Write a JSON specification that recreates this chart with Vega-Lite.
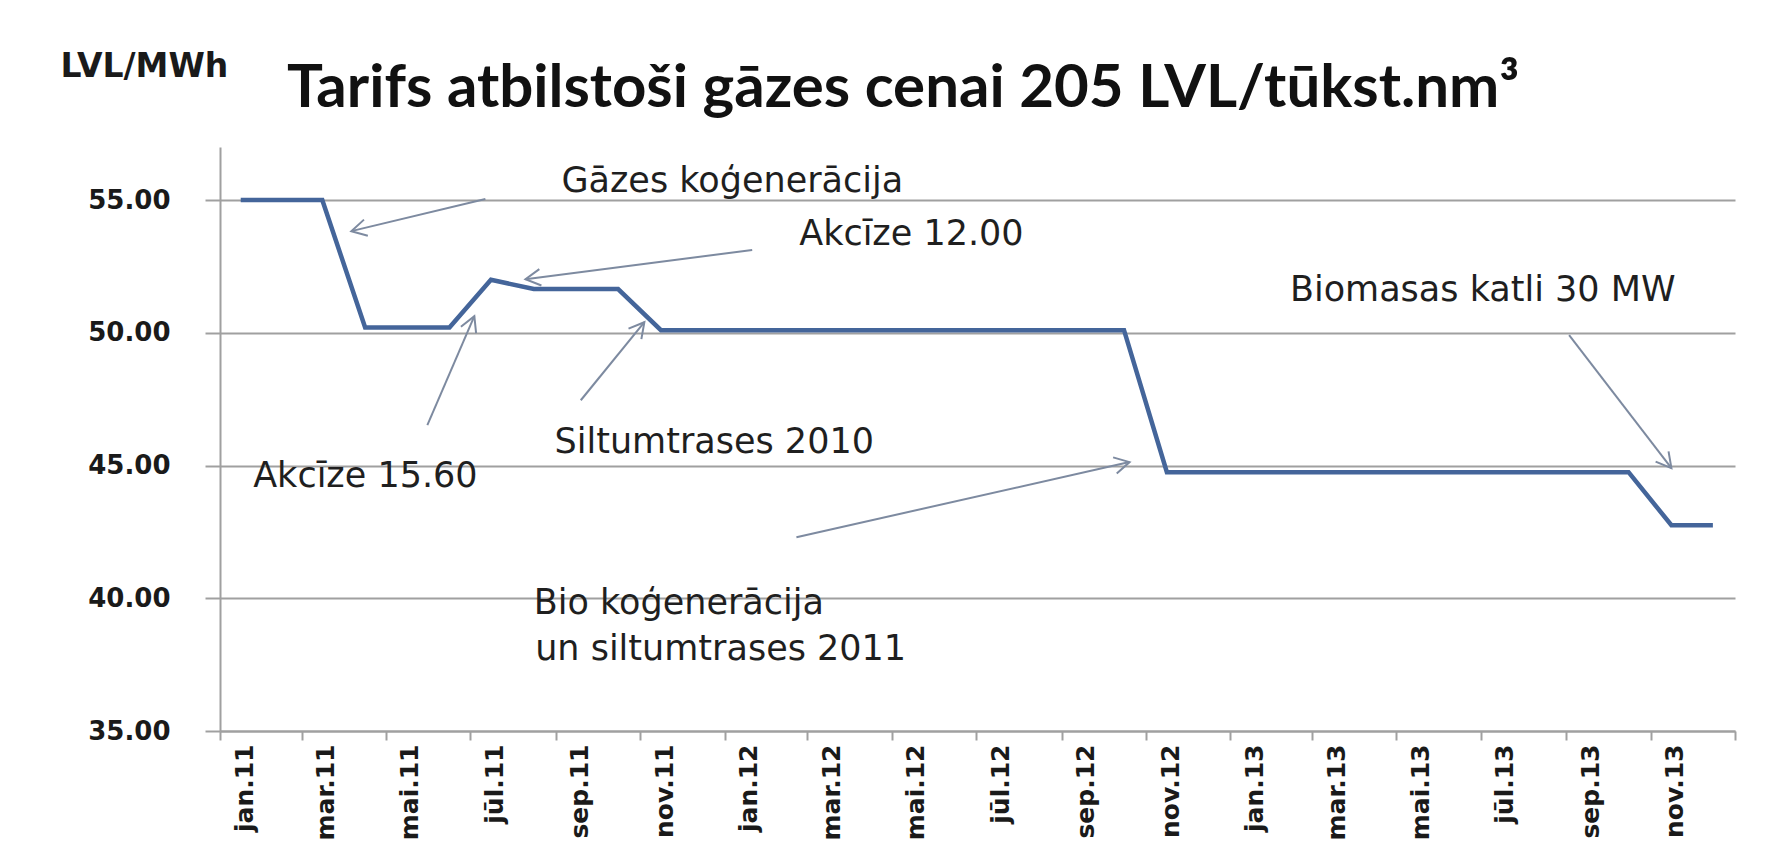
{
  "$schema": "https://vega.github.io/schema/vega-lite/v6.json",
  "width": 1515,
  "height": 584,
  "autosize": {"type": "none"},
  "padding": {"left": 220, "top": 147, "right": 42, "bottom": 133},
  "background": "#ffffff",
  "config": {"view": {"stroke": null}},
  "title": {
    "text": "Tarifs atbilstoši gāzes cenai 205 LVL/tūkst.nm³",
    "anchor": "start",
    "frame": "group",
    "dx": 67,
    "offset": -117,
    "baseline": "alphabetic",
    "font": "Lato",
    "fontSize": 60,
    "fontWeight": "bold",
    "color": "#111111"
  },
  "datasets": {
    "tariff": [
      {"month": "2011-01-16", "value": 55.0},
      {"month": "2011-02-15", "value": 55.0},
      {"month": "2011-03-16", "value": 55.0},
      {"month": "2011-04-16", "value": 50.2},
      {"month": "2011-05-16", "value": 50.2},
      {"month": "2011-06-16", "value": 50.2},
      {"month": "2011-07-16", "value": 52.0},
      {"month": "2011-08-16", "value": 51.65},
      {"month": "2011-09-16", "value": 51.65},
      {"month": "2011-10-16", "value": 51.65},
      {"month": "2011-11-16", "value": 50.1},
      {"month": "2011-12-16", "value": 50.1},
      {"month": "2012-01-16", "value": 50.1},
      {"month": "2012-02-15", "value": 50.1},
      {"month": "2012-03-16", "value": 50.1},
      {"month": "2012-04-16", "value": 50.1},
      {"month": "2012-05-16", "value": 50.1},
      {"month": "2012-06-16", "value": 50.1},
      {"month": "2012-07-16", "value": 50.1},
      {"month": "2012-08-16", "value": 50.1},
      {"month": "2012-09-16", "value": 50.1},
      {"month": "2012-10-16", "value": 50.1},
      {"month": "2012-11-16", "value": 44.75},
      {"month": "2012-12-16", "value": 44.75},
      {"month": "2013-01-16", "value": 44.75},
      {"month": "2013-02-15", "value": 44.75},
      {"month": "2013-03-16", "value": 44.75},
      {"month": "2013-04-16", "value": 44.75},
      {"month": "2013-05-16", "value": 44.75},
      {"month": "2013-06-16", "value": 44.75},
      {"month": "2013-07-16", "value": 44.75},
      {"month": "2013-08-16", "value": 44.75},
      {"month": "2013-09-16", "value": 44.75},
      {"month": "2013-10-16", "value": 44.75},
      {"month": "2013-11-16", "value": 42.75},
      {"month": "2013-12-16", "value": 42.75}
    ],
    "arrows": [
      {"x_from": "2011-07-12", "y_from": 55.04, "x_to": "2011-04-06", "y_to": 53.83, "angle": 166.5},
      {"x_from": "2012-01-21", "y_from": 53.12, "x_to": "2011-08-10", "y_to": 52.02, "angle": 172.7},
      {"x_from": "2011-05-31", "y_from": 46.52, "x_to": "2011-07-04", "y_to": 50.63, "angle": 292.9},
      {"x_from": "2011-09-19", "y_from": 47.46, "x_to": "2011-11-04", "y_to": 50.40, "angle": 308.9},
      {"x_from": "2012-02-22", "y_from": 42.30, "x_to": "2012-10-20", "y_to": 45.13, "angle": 347.3},
      {"x_from": "2013-09-03", "y_from": 49.91, "x_to": "2013-11-16", "y_to": 44.90, "angle": 51.5}
    ],
    "notes": [
      {"label": "Gāzes koģenerācija", "date": "2011-09-05", "value": 55.72},
      {"label": "Akcīze 12.00", "date": "2012-02-24", "value": 53.72},
      {"label": "Akcīze 15.60", "date": "2011-01-25", "value": 44.6},
      {"label": "Siltumtrases 2010", "date": "2011-08-31", "value": 45.88},
      {"label": "Biomasas katli 30 MW", "date": "2013-02-13", "value": 51.61},
      {"label": "Bio koģenerācija", "date": "2011-08-16", "value": 39.81},
      {"label": "un siltumtrases 2011", "date": "2011-08-17", "value": 38.1}
    ]
  },
  "layer": [
    {
      "data": {"name": "tariff"},
      "mark": {"type": "line", "color": "#44659a", "strokeWidth": 4.5, "strokeJoin": "miter"},
      "encoding": {
        "x": {
          "field": "month",
          "type": "temporal",
          "title": null,
          "scale": {"type": "utc", "domain": [{"year": 2011, "month": 1, "date": 1, "utc": true}, {"year": 2014, "month": 1, "date": 1, "utc": true}], "nice": false},
          "axis": {
            "values": [
              {"year": 2011, "month": 1, "date": 1, "utc": true},
              {"year": 2011, "month": 3, "date": 1, "utc": true},
              {"year": 2011, "month": 5, "date": 1, "utc": true},
              {"year": 2011, "month": 7, "date": 1, "utc": true},
              {"year": 2011, "month": 9, "date": 1, "utc": true},
              {"year": 2011, "month": 11, "date": 1, "utc": true},
              {"year": 2012, "month": 1, "date": 1, "utc": true},
              {"year": 2012, "month": 3, "date": 1, "utc": true},
              {"year": 2012, "month": 5, "date": 1, "utc": true},
              {"year": 2012, "month": 7, "date": 1, "utc": true},
              {"year": 2012, "month": 9, "date": 1, "utc": true},
              {"year": 2012, "month": 11, "date": 1, "utc": true},
              {"year": 2013, "month": 1, "date": 1, "utc": true},
              {"year": 2013, "month": 3, "date": 1, "utc": true},
              {"year": 2013, "month": 5, "date": 1, "utc": true},
              {"year": 2013, "month": 7, "date": 1, "utc": true},
              {"year": 2013, "month": 9, "date": 1, "utc": true},
              {"year": 2013, "month": 11, "date": 1, "utc": true},
              {"year": 2014, "month": 1, "date": 1, "utc": true}
            ],
            "labelExpr": "utcyear(datum.value) > 2013 ? '' : ['jan','feb','mar','apr','mai','jūn','jūl','aug','sep','okt','nov','dec'][utcmonth(datum.value)] + '.' + utcFormat(datum.value, '%y')",
            "labelAngle": 270,
            "labelAlign": "right",
            "labelBaseline": "middle",
            "labelOffset": 24,
            "labelPadding": 4,
            "labelFont": "DejaVu Sans",
            "labelFontSize": 25,
            "labelFontWeight": "bold",
            "labelColor": "#1a1a1a",
            "labelOverlap": false,
            "labelBound": false,
            "labelFlush": false,
            "grid": false,
            "tickSize": 9,
            "tickWidth": 2,
            "tickColor": "#a0a0a0",
            "domainColor": "#a0a0a0",
            "domainWidth": 2
          }
        },
        "y": {
          "field": "value",
          "type": "quantitative",
          "title": "LVL/MWh",
          "scale": {"domain": [35, 57], "nice": false, "zero": false},
          "axis": {
            "values": [35, 40, 45, 50, 55],
            "format": ".2f",
            "grid": true,
            "gridColor": "#a0a0a0",
            "gridWidth": 2,
            "tickSize": 15,
            "tickWidth": 2,
            "tickColor": "#a0a0a0",
            "domainColor": "#a0a0a0",
            "domainWidth": 2,
            "labelFont": "DejaVu Sans",
            "labelFontSize": 26,
            "labelFontWeight": "bold",
            "labelColor": "#1a1a1a",
            "labelPadding": 35,
            "titleAngle": 0,
            "titleAlign": "left",
            "titleBaseline": "middle",
            "titleX": -160,
            "titleY": -81,
            "titleFont": "DejaVu Sans",
            "titleFontSize": 33,
            "titleFontWeight": "bold",
            "titleColor": "#1a1a1a"
          }
        }
      }
    },
    {
      "data": {"name": "arrows"},
      "mark": {"type": "rule", "color": "#7d8aa0", "strokeWidth": 2},
      "encoding": {
        "x": {"field": "x_from", "type": "temporal", "title": null},
        "y": {"field": "y_from", "type": "quantitative", "title": "LVL/MWh"},
        "x2": {"field": "x_to"},
        "y2": {"field": "y_to"}
      }
    },
    {
      "data": {"name": "arrows"},
      "mark": {"type": "point", "shape": "M -1 -0.55 L 0 0 L -1 0.55", "filled": false, "size": 900, "strokeWidth": 2, "color": "#7d8aa0", "opacity": 1},
      "encoding": {
        "x": {"field": "x_to", "type": "temporal", "title": null},
        "y": {"field": "y_to", "type": "quantitative", "title": "LVL/MWh"},
        "angle": {"field": "angle", "type": "quantitative", "scale": null}
      }
    },
    {
      "data": {"name": "notes"},
      "mark": {"type": "text", "align": "left", "baseline": "middle", "font": "DejaVu Sans", "fontSize": 35, "color": "#1f1f1f"},
      "encoding": {
        "x": {"field": "date", "type": "temporal", "title": null},
        "y": {"field": "value", "type": "quantitative", "title": "LVL/MWh"},
        "text": {"field": "label"}
      }
    }
  ]
}
